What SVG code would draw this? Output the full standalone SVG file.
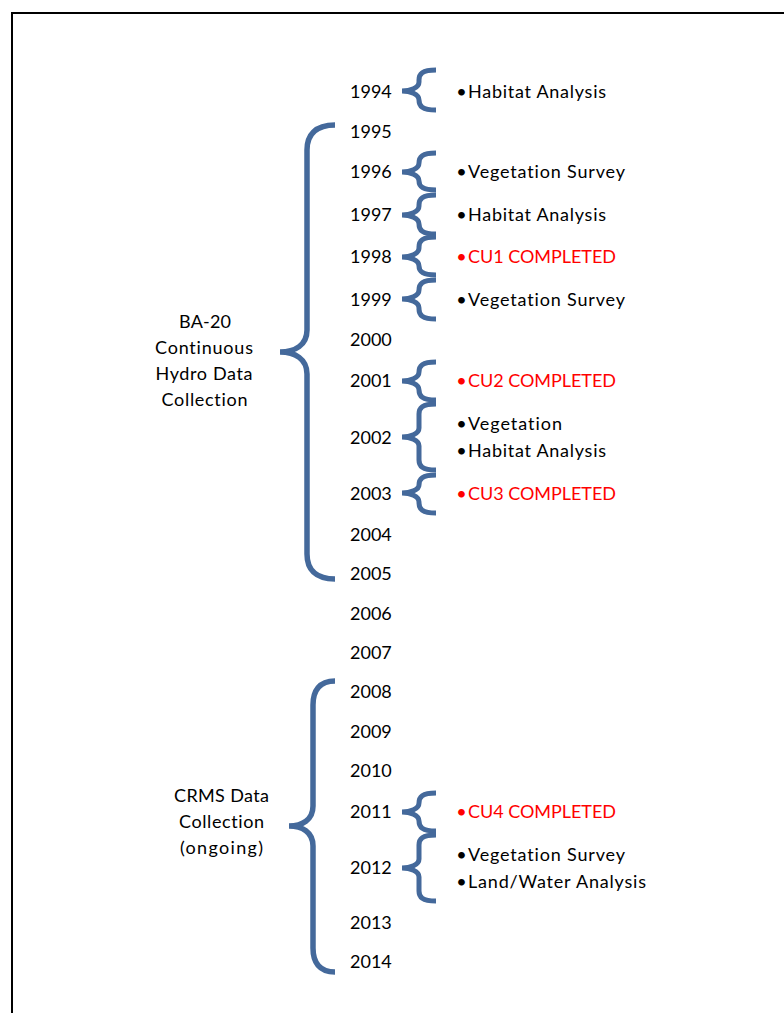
<svg xmlns="http://www.w3.org/2000/svg" width="784" height="1013" viewBox="0 0 784 1013">
<style>
text{font-family:Lato,"Open Sans","Liberation Sans",sans-serif;font-size:18px;fill:#000;font-variant-ligatures:none}
.red{fill:#ff0000}
.br{fill:none;stroke:#44699b;stroke-width:5;stroke-linecap:butt}
.big{stroke-width:5.5}
.mid{text-anchor:middle}
</style>
<rect x="12" y="13" width="800" height="1030" fill="#fff" stroke="#000" stroke-width="2"/>
<g id="connectors">
<path class="br big" d="M335,125 C315,125 307,135 307,150 L307,330 C307,345 295,352 280,352 C295,352 307,359 307,374 L307,554 C307,569 315,579 335,579"/>
<path class="br big" d="M335,681 C319,681 313,691 313,705 L313,806 C313,820 302,826 289,826 C302,826 313,832 313,846 L313,948 C313,962 319,972 335,972"/>
<path class="br" d="M436,70 C422,70 419,74 419,80 L419,82 C419,88 410,91 402,91 C410,91 419,94 419,100 L419,100 C419,106 422,110 436,110"/>
<path class="br" d="M436,153 C422,153 419,157 419,163 L419,163 C419,169 410,172 402,172 C410,172 419,175 419,181 L419,181 C419,186 422,190 436,190"/>
<path class="br" d="M436,195 C422,195 419,199 419,205 L419,206 C419,212 410,215 402,215 C410,215 419,218 419,224 L419,224 C419,230 422,234 436,234"/>
<path class="br" d="M436,237 C422,237 419,241 419,247 L419,248 C419,254 410,257 402,257 C410,257 419,260 419,266 L419,266 C419,271 422,275 436,275"/>
<path class="br" d="M436,280 C422,280 419,284 419,290 L419,290 C419,296 410,299 402,299 C410,299 419,302 419,308 L419,309 C419,315 422,319 436,319"/>
<path class="br" d="M436,362 C422,362 419,366 419,372 L419,372 C419,378 410,381 402,381 C410,381 419,384 419,390 L419,390 C419,396 422,400 436,400"/>
<path class="br" d="M436,404 C422,404 419,408 419,414 L419,428 C419,434 410,437 402,437 C410,437 419,440 419,446 L419,460 C419,466 422,470 436,470"/>
<path class="br" d="M436,475 C422,475 419,479 419,485 L419,485 C419,490 410,493 402,493 C410,493 419,496 419,502 L419,503 C419,509 422,513 436,513"/>
<path class="br" d="M436,793 C422,793 419,797 419,803 L419,803 C419,809 410,812 402,812 C410,812 419,815 419,821 L419,821 C419,827 422,831 436,831"/>
<path class="br" d="M436,835 C422,835 419,839 419,845 L419,859 C419,865 410,868 402,868 C410,868 419,871 419,877 L419,891 C419,897 422,901 436,901"/>
</g>
<g id="group-ba20">
<text class="mid" x="205" y="328" textLength="52">BA-20</text>
<text class="mid" x="204" y="354" textLength="98">Continuous</text>
<text class="mid" x="204" y="380" textLength="97">Hydro Data</text>
<text class="mid" x="204.5" y="406" textLength="86">Collection</text>
</g>
<g id="group-crms">
<text class="mid" x="221.5" y="802" textLength="95">CRMS Data</text>
<text class="mid" x="221.5" y="828" textLength="85">Collection</text>
<text class="mid" x="221.5" y="854" textLength="83">(ongoing)</text>
</g>
<g id="years">
<text x="350" y="98">1994</text>
<text x="350" y="138">1995</text>
<text x="350" y="178">1996</text>
<text x="350" y="221">1997</text>
<text x="350" y="263">1998</text>
<text x="350" y="306">1999</text>
<text x="350" y="346">2000</text>
<text x="350" y="387">2001</text>
<text x="350" y="444">2002</text>
<text x="350" y="500">2003</text>
<text x="350" y="541">2004</text>
<text x="350" y="580">2005</text>
<text x="350" y="620">2006</text>
<text x="350" y="659">2007</text>
<text x="350" y="698">2008</text>
<text x="350" y="738">2009</text>
<text x="350" y="777">2010</text>
<text x="350" y="818">2011</text>
<text x="350" y="874">2012</text>
<text x="350" y="929">2013</text>
<text x="350" y="968">2014</text>
</g>
<g id="events">
<text class="mid" x="461.5" y="98">•</text><text x="468" y="98" textLength="138">Habitat Analysis</text>
<text class="mid" x="461.5" y="178">•</text><text x="468" y="178" textLength="157">Vegetation Survey</text>
<text class="mid" x="461.5" y="221">•</text><text x="468" y="221" textLength="138">Habitat Analysis</text>
<text class="mid red" x="461.5" y="263">•</text><text class="red" x="468" y="263" textLength="148">CU1 COMPLETED</text>
<text class="mid" x="461.5" y="306">•</text><text x="468" y="306" textLength="157">Vegetation Survey</text>
<text class="mid red" x="461.5" y="387">•</text><text class="red" x="468" y="387" textLength="148">CU2 COMPLETED</text>
<text class="mid" x="461.5" y="430">•</text><text x="468" y="430" textLength="94">Vegetation</text>
<text class="mid" x="461.5" y="457">•</text><text x="468" y="457" textLength="138">Habitat Analysis</text>
<text class="mid red" x="461.5" y="500">•</text><text class="red" x="468" y="500" textLength="148">CU3 COMPLETED</text>
<text class="mid red" x="461.5" y="818">•</text><text class="red" x="468" y="818" textLength="148">CU4 COMPLETED</text>
<text class="mid" x="461.5" y="861">•</text><text x="468" y="861" textLength="157">Vegetation Survey</text>
<text class="mid" x="461.5" y="888">•</text><text x="468" y="888" textLength="178">Land/Water Analysis</text>
</g>
</svg>
